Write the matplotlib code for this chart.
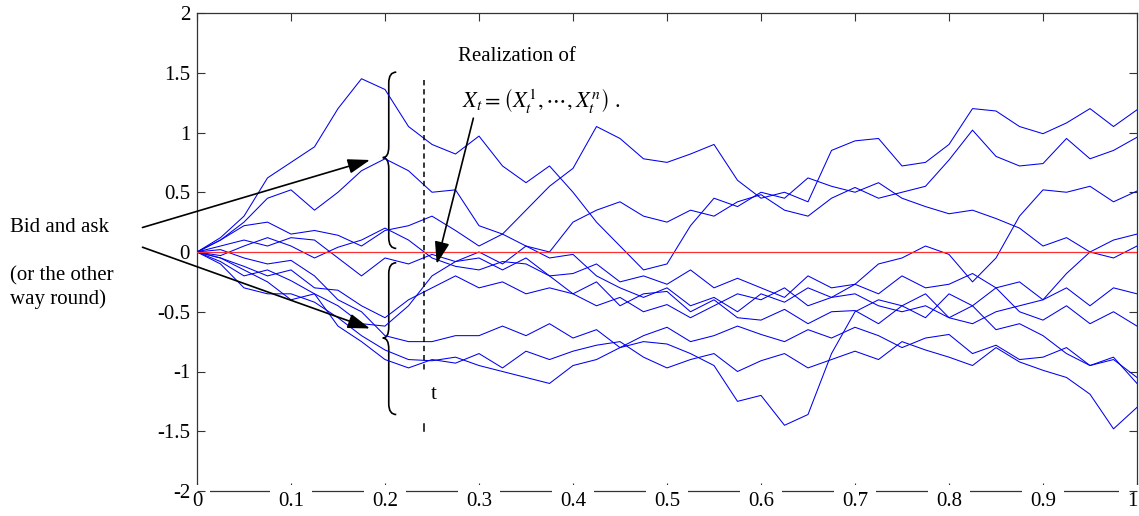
import numpy as np
import matplotlib
matplotlib.use("Agg")
import matplotlib.pyplot as plt
from matplotlib.path import Path
from matplotlib.patches import PathPatch
import matplotlib.transforms as mtransforms

plt.rcParams['font.family'] = ['Liberation Serif', 'DejaVu Serif']
plt.rcParams['mathtext.fontset'] = 'stix'

# time grid of the sampled paths
t = np.linspace(0, 1, 41)

# ten sample paths, values every 0.025
path_a = [0, 0.12, 0.3, 0.62, 0.75, 0.88, 1.2, 1.45, 1.36, 1.05, 0.9, 0.82, 0.97, 0.72, 0.58, 0.72,
          0.5, 0.25, 0.05, -0.15, -0.1, 0.22, 0.45, 0.38, 0.5, 0.45, 0.62, 0.55, 0.5, 0.58, 0.45,
          0.38, 0.32, 0.35, 0.28, 0.2, 0.05, 0.12, 0.0, 0.1, 0.15]
path_b = [0, 0.1, 0.25, 0.45, 0.52, 0.35, 0.5, 0.68, 0.78, 0.68, 0.5, 0.52, 0.22, 0.15, 0.05, -0.05,
          -0.02, -0.2, -0.3, -0.38, -0.3, -0.45, -0.38, -0.5, -0.35, -0.42, -0.3, -0.38, -0.27, -0.35,
          -0.2, -0.3, -0.27, -0.18, -0.3, -0.25, -0.4, -0.3, -0.45, -0.3, -0.35]
path_c = [0, 0.1, 0.22, 0.25, 0.15, 0.18, 0.14, 0.05, 0.18, 0.22, 0.3, 0.18, 0.05, 0.15, 0.35, 0.55,
          0.7, 1.05, 0.95, 0.78, 0.75, 0.82, 0.9, 0.6, 0.45, 0.5, 0.42, 0.85, 0.93, 0.95, 0.72, 0.75,
          0.9, 1.2, 1.18, 1.05, 0.99, 1.08, 1.2, 1.05, 1.19]
path_d = [0, 0.05, 0.1, 0.05, 0.12, 0.1, -0.05, -0.2, -0.05, -0.1, -0.02, -0.08, 0.0, -0.1, 0.05, 0.0,
          0.25, 0.35, 0.42, 0.3, 0.25, 0.35, 0.3, 0.42, 0.48, 0.35, 0.3, 0.45, 0.54, 0.45, 0.5, 0.55,
          0.77, 1.02, 0.8, 0.72, 0.74, 0.95, 0.78, 0.85, 0.96]
path_e = [0, -0.03, 0.05, 0.12, 0.05, -0.05, 0.04, 0.1, 0.2, 0.1, -0.05, -0.12, -0.15, -0.08, -0.1,
          -0.2, -0.18, -0.1, -0.25, -0.2, -0.27, -0.15, -0.3, -0.22, -0.3, -0.38, -0.2, -0.3, -0.27,
          -0.1, -0.05, 0.05, -0.02, -0.25, -0.05, 0.3, 0.52, 0.5, 0.55, 0.42, 0.51]
path_f = [0, -0.05, -0.12, -0.2, -0.15, -0.3, -0.32, -0.45, -0.55, -0.4, -0.3, -0.2, -0.3, -0.25, -0.35,
          -0.3, -0.35, -0.45, -0.38, -0.5, -0.44, -0.55, -0.45, -0.35, -0.4, -0.3, -0.45, -0.38, -0.35,
          -0.45, -0.5, -0.45, -0.55, -0.6, -0.5, -0.45, -0.4, -0.18, 0.0, -0.05, 0.05]
path_g = [0, -0.08, -0.2, -0.15, -0.24, -0.35, -0.45, -0.6, -0.62, -0.45, -0.2, -0.08, -0.05, -0.15,
          -0.05, -0.2, -0.35, -0.25, -0.45, -0.35, -0.33, -0.5, -0.4, -0.55, -0.57, -0.48, -0.6, -0.5,
          -0.49, -0.6, -0.45, -0.55, -0.35, -0.45, -0.3, -0.5, -0.57, -0.45, -0.6, -0.5, -0.62]
path_h = [0, -0.1, -0.3, -0.35, -0.35, -0.42, -0.55, -0.7, -0.82, -0.9, -0.91, -0.88, -0.95, -1.0, -1.05,
          -1.1, -0.95, -0.9, -0.8, -0.7, -0.63, -0.75, -0.7, -0.62, -0.69, -0.75, -0.65, -0.72, -0.63,
          -0.7, -0.8, -0.72, -0.69, -0.85, -0.78, -0.9, -0.88, -0.8, -0.95, -0.9, -1.05]
path_i = [0, 0.02, -0.05, -0.1, -0.07, -0.2, -0.4, -0.5, -0.7, -0.75, -0.75, -0.7, -0.7, -0.62, -0.7,
          -0.6, -0.72, -0.65, -0.8, -0.75, -0.77, -0.85, -0.95, -1.25, -1.2, -1.45, -1.36, -0.85, -0.5,
          -0.4, -0.45, -0.35, -0.55, -0.45, -0.65, -0.6, -0.7, -0.85, -0.95, -0.88, -1.1]
path_j = [0, -0.05, -0.15, -0.25, -0.4, -0.35, -0.62, -0.75, -0.9, -0.97, -0.9, -0.93, -0.85, -0.97,
          -0.83, -0.9, -0.83, -0.78, -0.75, -0.88, -0.97, -0.9, -0.85, -1.0, -0.91, -0.85, -0.97, -0.9,
          -0.83, -0.9, -0.75, -0.82, -0.88, -0.95, -0.8, -0.92, -0.99, -1.05, -1.19, -1.48, -1.3]
paths = [path_a, path_b, path_c, path_d, path_e, path_f, path_g, path_h, path_i, path_j]

x_ticks = [0, 0.1, 0.2, 0.3, 0.4, 0.5, 0.6, 0.7, 0.8, 0.9, 1]
x_labels = ['0', '0.1', '0.2', '0.3', '0.4', '0.5', '0.6', '0.7', '0.8', '0.9', '1']
y_ticks = [-2, -1.5, -1, -0.5, 0, 0.5, 1, 1.5, 2]
y_labels = ['-2', '-1.5', '-1', '-0.5', '0', '0.5', '1', '1.5', '2']

t_mark = 0.2415
FS = 15


def brace(ax, x0, y_top, y_mid, y_bot, hook=0.008, r=0.09):
    # left curly brace "{" drawn in data coordinates
    verts = [(x0 + hook, y_top), (x0, y_top), (x0, y_top - r),
             (x0, y_mid + r),
             (x0, y_mid), (x0 - hook * 0.8, y_mid),
             (x0, y_mid), (x0, y_mid - r),
             (x0, y_bot + r),
             (x0, y_bot), (x0 + hook, y_bot)]
    codes = [Path.MOVETO, Path.CURVE3, Path.CURVE3,
             Path.LINETO,
             Path.CURVE3, Path.CURVE3,
             Path.CURVE3, Path.CURVE3,
             Path.LINETO,
             Path.CURVE3, Path.CURVE3]
    ax.add_patch(PathPatch(Path(verts, codes), fill=False, lw=1.2, color='black', clip_on=False))


fig = plt.figure(figsize=(11.39, 5.16), dpi=100)
ax = fig.add_axes([197 / 1139, 25 / 516, 940 / 1139, 478 / 516])

for p in paths:
    ax.plot(t, p, color='#0000ee', lw=0.75)
ax.axhline(0, color='#ff3030', lw=0.9)

ax.set_xlim(0, 1)
ax.set_ylim(-2, 2)
ax.set_xticks(x_ticks)
ax.set_xticklabels(x_labels)
ax.set_yticks(y_ticks)
ax.set_yticklabels(y_labels)
ax.tick_params(direction='in', length=6, width=0.8, labelsize=FS, top=True, right=True, colors='#333333')
ax.tick_params(axis='x', pad=1)
ax.tick_params(axis='y', pad=5)
for s in ax.spines.values():
    s.set_linewidth(0.9)
    s.set_color('#333333')
    s.set_zorder(1)

xlabs = ax.get_xticklabels()
for lab in xlabs:
    lab.set_color('black')
    lab.set_bbox(dict(facecolor='white', edgecolor='none', pad=5.5))
for lab in ax.get_yticklabels():
    lab.set_color('black')
# the last label sits flush with the right edge, as in the original
xlabs[-1].set_transform(xlabs[-1].get_transform() +
                        mtransforms.ScaledTranslation(-5 / 100, 0, fig.dpi_scale_trans))

# braces around the upper and lower groups
brace(ax, 0.204, 1.505, 0.79, 0.03)
brace(ax, 0.204, -0.09, -0.72, -1.36)

# dashed time marker with its label
ax.plot([t_mark, t_mark], [1.44, -1.0], color='black', lw=1.1, dashes=(3.5, 2.5))
ax.plot([t_mark, t_mark], [-1.44, -1.5], color='black', lw=1.1)
ax.text(0.252, -1.19, 't', fontsize=FS, ha='center', va='center')

head = dict(arrowstyle='-|>,head_length=0.9,head_width=0.3', color='black', lw=1.2,
            mutation_scale=15, shrinkA=0, shrinkB=0)
ax.annotate('', xy=(0.184, 0.77), xytext=(-0.058, 0.205), arrowprops=head, annotation_clip=False)
ax.annotate('', xy=(0.184, -0.64), xytext=(-0.058, 0.04), arrowprops=head, annotation_clip=False)
ax.annotate('', xy=(0.255, -0.1), xytext=(0.294, 1.12), arrowprops=head, annotation_clip=False)

ax.text(0.2777, 1.64, 'Realization of', fontsize=FS, ha='left', va='center')
ax.text(0.282, 1.27, r'$X_t = \left(X_t^1,\cdots,X_t^n\right)$ .', fontsize=16, ha='left', va='center')

fig.text(10 / 1139, 1 - 228 / 516, 'Bid and ask', fontsize=FS, ha='left', va='center')
fig.text(10 / 1139, 1 - 276 / 516, '(or the other', fontsize=FS, ha='left', va='center')
fig.text(10 / 1139, 1 - 299 / 516, 'way round)', fontsize=FS, ha='left', va='center')

fig.savefig('out.png', dpi=100)
